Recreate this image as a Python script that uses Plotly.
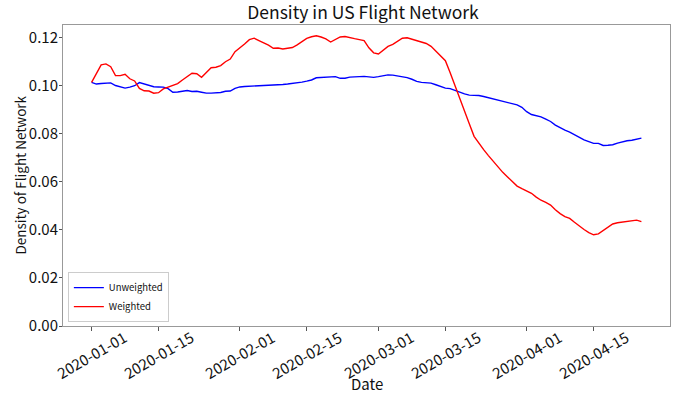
import datetime as dt
import plotly.graph_objects as go

start_date = "2020-01-01"
unweighted = [
    0.1015, 0.1008, 0.1010, 0.1011, 0.1013, 0.1002, 0.0996, 0.0991, 0.0995, 0.1001,
    0.1014, 0.1009, 0.1005, 0.0997, 0.0996, 0.0995, 0.0989, 0.0974, 0.0975, 0.0978,
    0.0981, 0.0977, 0.0978, 0.0974, 0.0970, 0.0970, 0.0971, 0.0973, 0.0978, 0.0979,
    0.0990, 0.0996, 0.0998, 0.0999, 0.1000, 0.1001, 0.1001, 0.1000, 0.1002, 0.1004,
    0.1006, 0.1008, 0.1010, 0.1013, 0.1016, 0.1020, 0.1025, 0.1034, 0.1036, 0.1035,
    0.1037, 0.1039, 0.1032, 0.1032, 0.1037, 0.1039, 0.1040, 0.1040, 0.1038, 0.1036,
    0.1039, 0.1042, 0.1046, 0.1045, 0.1042, 0.1040, 0.1035, 0.1028, 0.1019, 0.1015,
    0.1014, 0.1012, 0.1005, 0.0997, 0.0991, 0.0989, 0.0981, 0.0974, 0.0967, 0.0962,
    0.0962, 0.0960, 0.0956, 0.0951, 0.0943, 0.0938, 0.0933, 0.0928, 0.0926, 0.0921,
    0.0911, 0.0893, 0.0881, 0.0877, 0.0871, 0.0862, 0.0852, 0.0837, 0.0826, 0.0816,
    0.0808, 0.0797, 0.0785, 0.0775, 0.0768, 0.0761, 0.0761, 0.0752, 0.0753, 0.0755,
    0.0762, 0.0768, 0.0772, 0.0774, 0.0780, 0.0783,
]
weighted = [
    0.1015, 0.1050, 0.1088, 0.1092, 0.1080, 0.1043, 0.1043, 0.1049, 0.1030, 0.1021,
    0.0990, 0.0980, 0.0979, 0.0970, 0.0972, 0.0988, 0.0996, 0.1001, 0.1010, 0.1025,
    0.1040, 0.1053, 0.1051, 0.1036, 0.1056, 0.1076, 0.1078, 0.1085, 0.1101, 0.1112,
    0.1143, 0.1158, 0.1175, 0.1193, 0.1199, 0.1189, 0.1181, 0.1170, 0.1157, 0.1158,
    0.1154, 0.1158, 0.1160, 0.1171, 0.1184, 0.1198, 0.1205, 0.1209, 0.1204, 0.1196,
    0.1183, 0.1194, 0.1204, 0.1206, 0.1203, 0.1197, 0.1193, 0.1189, 0.1159, 0.1138,
    0.1133, 0.1150, 0.1165, 0.1173, 0.1185, 0.1199, 0.1201, 0.1195, 0.1188, 0.1181,
    0.1177, 0.1165, 0.1146, 0.1128, 0.1105, 0.1055, 0.1000, 0.0945, 0.0890, 0.0843,
    0.0790, 0.0761, 0.0735, 0.0710, 0.0686, 0.0660, 0.0640, 0.0621, 0.0602, 0.0583,
    0.0572, 0.0564, 0.0553, 0.0537, 0.0524, 0.0515, 0.0504, 0.0484, 0.0468, 0.0456,
    0.0448, 0.0432, 0.0415, 0.0402, 0.0389, 0.0380, 0.0384, 0.0397, 0.0412, 0.0425,
    0.0430, 0.0432, 0.0434, 0.0437, 0.0441, 0.0435,
]
tick_dates = ["2020-01-01", "2020-01-15", "2020-02-01", "2020-02-15",
              "2020-03-01", "2020-03-15", "2020-04-01", "2020-04-15"]
y_ticks = [0.00, 0.02, 0.04, 0.06, 0.08, 0.10, 0.12]

d0 = dt.datetime.fromisoformat(start_date)
dates = [d0 + dt.timedelta(days=i) for i in range(len(weighted))]
n = len(weighted) - 1
pad = n * 0.052
x_range = [d0 - dt.timedelta(days=pad), d0 + dt.timedelta(days=n + pad)]

FONT = "Noto Sans CJK JP"
TXT = "#111"
PLOT_W, PLOT_H = 607, 301

fig = go.Figure()
fig.add_trace(go.Scatter(x=dates, y=unweighted, mode="lines", name="Unweighted",
                         line=dict(color="#0000ff", width=1.4)))
fig.add_trace(go.Scatter(x=dates, y=weighted, mode="lines", name="Weighted",
                         line=dict(color="#ff0000", width=1.4)))

# rotated date labels centred under their ticks (as in the reference)
tick_annots = [
    dict(text=t, x=t, xref="x", yref="paper", y=-28.5 / PLOT_H,
         xanchor="center", yanchor="middle", textangle=-30, showarrow=False,
         font=dict(size=15, family=FONT, color=TXT))
    for t in tick_dates
]

fig.update_layout(
    width=676, height=400,
    margin=dict(l=63, r=6, t=25, b=74, autoexpand=False),
    paper_bgcolor="white", plot_bgcolor="white",
    font=dict(family=FONT, color=TXT),
    title=dict(text="Density in US Flight Network", x=363 / 676, xanchor="center",
               y=1 - 13 / 400, yanchor="middle", font=dict(size=17.5, family=FONT, color=TXT)),
    showlegend=True,
    legend=dict(x=0.008, y=0.013, xanchor="left", yanchor="bottom",
                bgcolor="white", bordercolor="#ccc", borderwidth=1,
                font=dict(size=9.5, family=FONT, color=TXT), itemwidth=30,
                tracegroupgap=0),
    annotations=tick_annots + [
        dict(text="Date", xref="paper", yref="paper", x=0.5, y=-57 / PLOT_H,
             xanchor="center", yanchor="middle", showarrow=False,
             font=dict(size=15, family=FONT, color=TXT)),
        dict(text="Density of Flight Network", xref="paper", yref="paper",
             x=-44 / PLOT_W, y=0.5, xanchor="center", yanchor="middle", textangle=-90,
             showarrow=False, font=dict(size=13.5, family=FONT, color=TXT)),
    ],
)
fig.update_xaxes(
    range=x_range, tickvals=tick_dates, showticklabels=False,
    automargin=False,
    showgrid=False, zeroline=False, showline=True, mirror=True,
    linecolor="#999", linewidth=1, ticks="outside", ticklen=4, tickcolor="#555",
)
fig.update_yaxes(
    range=[0, 0.1254], tickvals=y_ticks, tickformat=".2f",
    automargin=False, ticklabelstandoff=-2,
    showgrid=False, zeroline=False, showline=True, mirror=True,
    linecolor="#999", linewidth=1, ticks="outside", ticklen=3, tickcolor="#555",
    tickfont=dict(size=15, family=FONT, color=TXT),
)

fig.write_html("out.html", config={"displayModeBar": False},
               post_script="document.body.style.margin='0';document.body.style.padding='0';")
